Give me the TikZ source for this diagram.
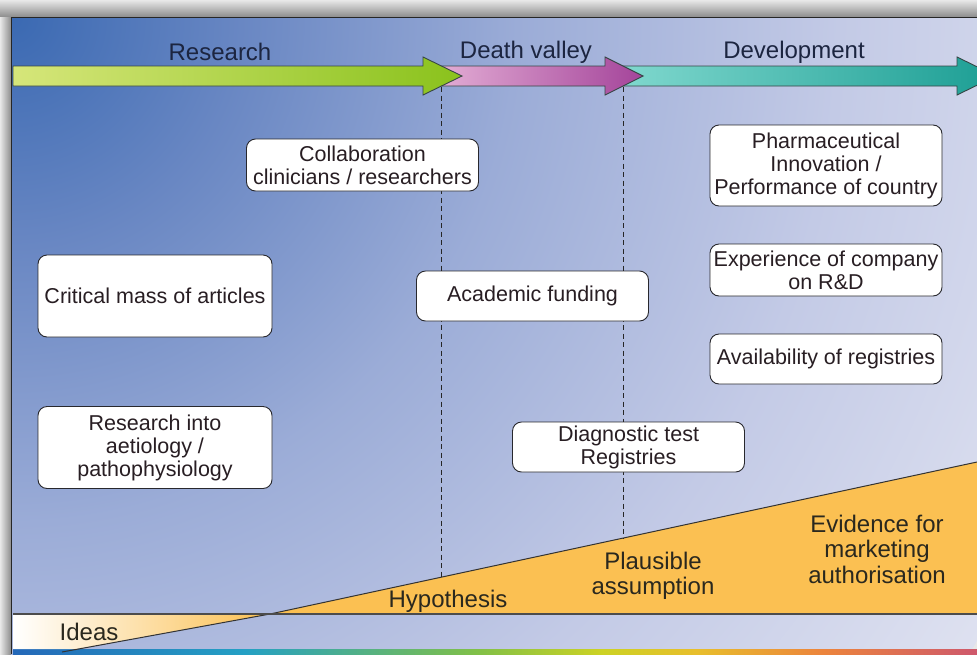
\documentclass[tikz,border=0pt]{standalone}
\usepackage{fontspec}
\setmainfont{Liberation Sans}

\definecolor{framegray}{RGB}{232,232,232}
\definecolor{bgA}{RGB}{58,105,178}
\definecolor{bgB}{RGB}{105,135,195}
\definecolor{bgC}{RGB}{155,172,215}
\definecolor{bgD}{RGB}{195,202,230}
\definecolor{bgE}{RGB}{222,225,240}
\definecolor{resA}{RGB}{214,230,122}
\definecolor{resB}{RGB}{138,194,28}
\definecolor{dvA}{RGB}{226,172,212}
\definecolor{dvB}{RGB}{164,68,154}
\definecolor{devA}{RGB}{128,216,206}
\definecolor{devB}{RGB}{28,158,148}
\definecolor{arrowedge}{RGB}{55,70,70}
\definecolor{evidence}{RGB}{251,192,82}
\definecolor{boxedge}{RGB}{40,40,45}
\definecolor{boxtext}{RGB}{40,30,35}
\definecolor{phasetext}{RGB}{28,37,64}
\definecolor{leveltext}{RGB}{42,40,30}
\definecolor{sp1}{RGB}{36,104,184}
\definecolor{sp2}{RGB}{36,160,196}
\definecolor{sp3}{RGB}{128,192,72}
\definecolor{sp4}{RGB}{204,210,36}
\definecolor{sp5}{RGB}{232,190,44}
\definecolor{sp6}{RGB}{236,132,60}
\definecolor{sp7}{RGB}{206,88,108}

\pgfdeclareradialshading{panelglow}{\pgfpoint{0bp}{0bp}}{color(0bp)=(bgA); color(5bp)=(bgB); color(11bp)=(bgC); color(18bp)=(bgD); color(25bp)=(bgE); color(50bp)=(bgE)}
\pgfdeclarehorizontalshading{spectrum}{100bp}{color(0bp)=(sp1); color(25bp)=(sp1); color(37bp)=(sp2); color(49bp)=(sp3); color(55.5bp)=(sp4); color(60.5bp)=(sp5); color(67bp)=(sp6); color(75bp)=(sp7); color(100bp)=(sp7)}

\newcommand{\factorfont}{\fontsize{21.5}{23}\selectfont}
\newcommand{\phasefont}{\fontsize{24}{26}\selectfont}
\newcommand{\levelfont}{\fontsize{24}{25.5}\selectfont}

\tikzset{
  factor/.style={draw=boxedge, fill=white, line width=0.9pt, rounded corners=9pt,
    align=center, inner sep=0pt, minimum width=232pt, text=boxtext, font=\factorfont},
  phase/.style={font=\phasefont, text=phasetext, inner sep=0pt},
  level/.style={font=\levelfont, text=leveltext, align=center, inner sep=0pt},
  split/.style={black!85, line width=0.9pt, dash pattern=on 5pt off 3.5pt},
  phasearrow/.style={draw=arrowedge, line width=0.9pt},
}

\begin{document}
\begin{tikzpicture}[x=1pt, y=-1pt]
    \useasboundingbox (0,0) rectangle (977,654);
    % Frame and shadow
    \fill[framegray] (0,0) rectangle (977,654);
    \shade[top color=framegray, bottom color=black!45] (0,0) rectangle (977,17);
    \shade[left color=framegray, right color=black!45] (0,17) rectangle (11,654);
    % Panel background
    \begin{scope}
        \clip (11,17) rectangle (977,654);
        \shade[shading=panelglow] (11,17) circle (1150pt);
    \end{scope}
    \draw[black!85, line width=1pt] (11,654) -- (11,17) -- (977,17);
    % Spectrum strip
    \shade[shading=spectrum] (13,649) rectangle (977,654);
    % Evidence wedge
    \shade[left color=white, middle color=evidence!25!white, right color=evidence]
        (13,614) -- (270,614) -- (77,649) -- (13,649) -- cycle;
    \fill[evidence] (270,614) -- (977,462) -- (977,614) -- cycle;
    \draw[black!80, line width=1pt] (62,652) -- (270,614) -- (977,462);
    \draw[black!70, line width=1.4pt] (13,614) -- (977,614);
    % Death valley borders
    \coordinate (valleyin) at (441,87);
    \coordinate (valleyinfoot) at (441,577);
    \coordinate (valleyout) at (623,87);
    \coordinate (valleyoutfoot) at (623,538);
    \draw[split] (valleyin) -- (valleyinfoot);
    \draw[split] (valleyout) -- (valleyoutfoot);
    % Phase arrows
    \begin{scope}
        \clip (11,17) rectangle (977,654);
        \shadedraw[phasearrow, left color=devA, right color=devB]
            (620,66) -- (957,66) -- (957,57) -- (996,76) -- (957,95) -- (957,86) -- (620,86) -- cycle;
    \end{scope}
    \shadedraw[phasearrow, left color=dvA, right color=dvB]
        (440,66) -- (605,66) -- (605,57) -- (643,76) -- (605,95) -- (605,86) -- (440,86) -- cycle;
    \shadedraw[phasearrow, left color=resA, right color=resB]
        (13,66) -- (423,66) -- (423,57) -- (462,76) -- (423,95) -- (423,86) -- (13,86) -- cycle;
    % Phase labels
    \node[phase] (research) at (220,52) {Research};
    \node[phase] (valley) at (526,52) {Death valley};
    \node[phase] (development) at (794,52) {Development};
    % Factors
    \node[factor, minimum height=52pt] (collab) at (362.5,165) {Collaboration\\clinicians / researchers};
    \node[factor, minimum width=234pt, minimum height=82pt] (articles) at (155,296) {Critical mass of articles};
    \node[factor, minimum width=234pt, minimum height=82pt] (aetiology) at (155,447.5) {Research into\\aetiology /\\pathophysiology};
    \node[factor, minimum height=50pt] (funding) at (532.5,296) {Academic funding};
    \node[factor, minimum height=50pt] (diagnostic) at (628.5,447) {Diagnostic test\\Registries};
    \node[factor, minimum height=81pt] (innovation) at (826,165.5) {Pharmaceutical\\Innovation /\\Performance of country};
    \node[factor, minimum height=52pt] (experience) at (826,270) {Experience of company\\on R\&D};
    \node[factor, minimum height=50pt] (registries) at (826,359) {Availability of registries};
    % Evidence levels
    \node[level] (ideas) at (89,632) {Ideas};
    \node[level] (hypothesis) at (448,601) {Hypothesis};
    \node[level] (plausible) at (653,576) {Plausible\\assumption};
    \node[level] (marketing) at (877,549) {Evidence for\\marketing\\authorisation};
\end{tikzpicture}
\end{document}
